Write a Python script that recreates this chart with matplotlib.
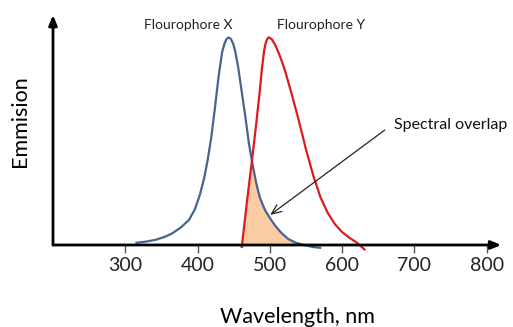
import numpy as np
import matplotlib
matplotlib.use('Agg')
from matplotlib import pyplot as plt

plt.rcParams['font.family'] = ['Lato', 'DejaVu Sans']

# emission spectra, relative intensity vs wavelength (nm)
wl_x = [314, 330, 342, 355, 365, 377, 388, 396, 403, 409, 414, 419, 424, 429,
        434, 437, 440, 443, 446, 449, 452, 456, 461, 466, 471, 476, 481, 486,
        493, 500, 508, 516, 525, 535, 547, 560, 571]
em_x = [0.01, 0.017, 0.025, 0.04, 0.056, 0.085, 0.12, 0.17, 0.24, 0.32, 0.41,
        0.52, 0.66, 0.81, 0.93, 0.968, 0.992, 1.0, 0.993, 0.972, 0.935, 0.86,
        0.74, 0.62, 0.49, 0.39, 0.30, 0.23, 0.17, 0.13, 0.09, 0.058, 0.03,
        0.012, 0.0, -0.01, -0.014]

wl_y = [461, 468, 475, 481, 486, 489, 492, 494, 496, 498, 500, 503, 508, 514,
        521, 530, 540, 550, 560, 570, 580, 590, 600, 610, 620, 632]
em_y = [-0.015, 0.2, 0.40, 0.58, 0.74, 0.85, 0.935, 0.97, 0.99, 1.0, 0.998,
        0.99, 0.96, 0.91, 0.84, 0.73, 0.60, 0.46, 0.335, 0.23, 0.155, 0.10,
        0.062, 0.035, 0.012, -0.025]

tick_vals = [300, 400, 500, 600, 700, 800]
names = ['Flourophore X', 'Flourophore Y']

blue = '#45648e'
red = '#dc1a20'
peach = '#fbcba3'

fig = plt.figure(figsize=(5.13, 3.27), dpi=100)
ax = fig.add_axes([0.1033, 0.2508, 0.8737, 0.7032])
ax.set_xlim(200, 820)
ax.set_ylim(0, 1.108)

# shaded region where both spectra overlap
grid = np.linspace(wl_y[0], wl_x[-1], 400)
low = np.minimum(np.interp(grid, wl_x, em_x), np.interp(grid, wl_y, em_y))
ax.fill_between(grid, 0, np.clip(low, 0, None), color=peach, lw=0)

ax.plot(wl_x, em_x, color=blue, lw=1.6, clip_on=False, solid_capstyle='butt')
ax.plot(wl_y, em_y, color=red, lw=1.6, clip_on=False, solid_capstyle='butt')

for s in ax.spines.values():
    s.set_visible(False)
ax.set_yticks([])
ax.set_xticks(tick_vals)
ax.tick_params(axis='x', direction='out', length=6, width=1, color='#555555',
               labelsize=14, pad=3, labelcolor='#222222')

# axis arrows
ax.annotate('', xy=(1, 0), xytext=(0, 0), xycoords='axes fraction',
            arrowprops=dict(arrowstyle='-|>,head_length=0.6,head_width=0.25',
                            color='black', lw=2, shrinkA=0, shrinkB=0))
ax.annotate('', xy=(0, 1), xytext=(0, 0), xycoords='axes fraction',
            arrowprops=dict(arrowstyle='-|>,head_length=0.6,head_width=0.25',
                            color='black', lw=2, shrinkA=0, shrinkB=0))

ax.text(387, 1.06, names[0], ha='center', va='center', fontsize=10, color='#222222')
ax.text(510, 1.06, names[1], ha='left', va='center', fontsize=10, color='#222222')

# pointer to the overlap area
ax.text(672, 0.578, 'Spectral overlap', fontsize=11.5, va='center', ha='left',
        color='#111111')
ax.annotate('', xy=(500.5, 0.145), xytext=(659, 0.554),
            arrowprops=dict(arrowstyle='->,head_length=0.7,head_width=0.3',
                            color='#222222', lw=0.9, shrinkA=0, shrinkB=0))

fig.text(0.039, 0.63, 'Emmision', rotation=90, ha='center', va='center', fontsize=15.5)
fig.text(0.58, 0.012, 'Wavelength, nm', ha='center', va='baseline', fontsize=15.5)

fig.savefig('out.png', dpi=100)
